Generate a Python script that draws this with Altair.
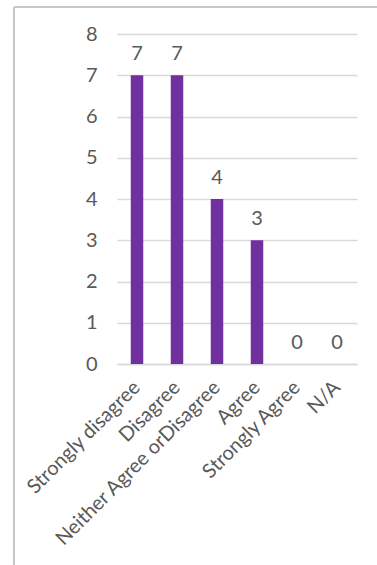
import altair as alt
import pandas as pd

# Survey responses per answer option
categories = ["Strongly disagree", "Disagree", "Neither Agree orDisagree",
              "Agree", "Strongly Agree", "N/A"]
counts = [7, 7, 4, 3, 0, 0]
y_ticks = [0, 1, 2, 3, 4, 5, 6, 7, 8]

df = pd.DataFrame({"category": categories, "count": counts})

FONT = "Lato"
TEXT = "#595959"
BAR = "#7030A0"
SIZE = 20

x = alt.X("category:N", sort=categories, title=None,
          scale=alt.Scale(paddingInner=0, paddingOuter=0),
          axis=alt.Axis(labelAngle=-45, labelFontSize=SIZE, labelColor=TEXT,
                        labelFont=FONT, ticks=False, domainColor="#d9d9d9",
                        domainWidth=1.5, labelPadding=20, grid=False,
                        labelLimit=0, labelOverlap=False,
                        labelAlign="right", labelBaseline="middle"))
y = alt.Y("count:Q", title=None,
          scale=alt.Scale(domain=[0, 8], nice=False),
          axis=alt.Axis(values=y_ticks, labelFontSize=SIZE, labelColor=TEXT,
                        labelFont=FONT, ticks=False, domain=False,
                        gridColor="#d9d9d9", gridWidth=1.5, labelPadding=20))

bars = alt.Chart(df).mark_bar(color=BAR, size=12.5).encode(x=x, y=y)

labels = alt.Chart(df).mark_text(
    fontSize=SIZE, font=FONT, color=TEXT, baseline="alphabetic", dy=-15
).encode(x=alt.X("category:N", sort=categories), y="count:Q", text="count:Q")

# Outer frame (left and top edges)
frame = alt.Data(values=[{"k": 1}])
left_edge = alt.Chart(frame).mark_rule(color="#c8c8c8", strokeWidth=2).encode(
    x=alt.value(-103), y=alt.value(-27), y2=alt.value(560))
top_edge = alt.Chart(frame).mark_rule(color="#c8c8c8", strokeWidth=2).encode(
    x=alt.value(-103), x2=alt.value(300), y=alt.value(-27))

chart = alt.layer(bars, labels, left_edge, top_edge).properties(
    width=240, height=330,
    autosize=alt.AutoSizeParams(type="none"),
    padding={"left": 117, "top": 34, "right": 20, "bottom": 201},
).configure_view(stroke=None)

chart.save("out.html", embed_options={"renderer": "svg", "actions": False})
